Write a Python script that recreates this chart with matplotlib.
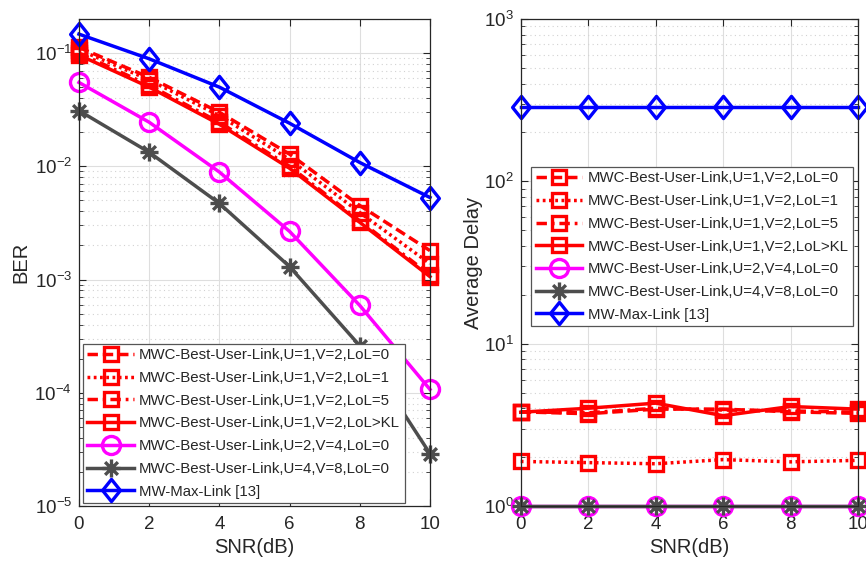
import numpy as np
import matplotlib
matplotlib.use("Agg")
import matplotlib.pyplot as plt
from matplotlib.path import Path

plt.rcParams['font.family'] = ['Liberation Sans', 'DejaVu Sans']
plt.rcParams['mathtext.fontset'] = 'custom'
plt.rcParams['mathtext.rm'] = 'Liberation Sans'
plt.rcParams['mathtext.default'] = 'regular'

snr = [0, 2, 4, 6, 8, 10]
labels = [
    "MWC-Best-User-Link,U=1,V=2,LoL=0",
    "MWC-Best-User-Link,U=1,V=2,LoL=1",
    "MWC-Best-User-Link,U=1,V=2,LoL=5",
    "MWC-Best-User-Link,U=1,V=2,LoL>KL",
    "MWC-Best-User-Link,U=2,V=4,LoL=0",
    "MWC-Best-User-Link,U=4,V=8,LoL=0",
    "MW-Max-Link [13]",
]

# BER versus SNR
ber_lol0 = [0.112, 0.061, 0.030, 0.0128, 0.0045, 0.0018]
ber_lol1 = [0.107, 0.058, 0.028, 0.0115, 0.0039, 0.00138]
ber_lol5 = [0.100, 0.052, 0.0245, 0.0100, 0.0033, 0.00110]
ber_lolkl = [0.096, 0.050, 0.0235, 0.0096, 0.0032, 0.00106]
ber_u2 = [0.055, 0.0245, 0.0089, 0.00266, 0.00059, 0.000107]
ber_u4 = [0.031, 0.0133, 0.0047, 0.0013, 0.00026, 0.000029]
ber_max = [0.147, 0.089, 0.050, 0.024, 0.0108, 0.0053]

# Average delay versus SNR
delay_lol0 = [3.8, 3.7, 3.95, 3.95, 3.8, 3.72]
delay_lol1 = [1.88, 1.85, 1.82, 1.93, 1.87, 1.91]
delay_lol5 = [3.8, 3.75, 4.0, 3.9, 3.85, 3.78]
delay_lolkl = [3.78, 4.0, 4.3, 3.6, 4.1, 3.95]
delay_u2 = [1.0, 1.0, 1.0, 1.0, 1.0, 1.0]
delay_u4 = [1.0, 1.0, 1.0, 1.0, 1.0, 1.0]
delay_max = [285, 285, 285, 285, 285, 285]

RED = '#ff0000'
MAG = '#ff00ff'
GRAY = '#4d4d4d'
BLUE = '#0000ff'
TXT = '#262626'

diamond = Path([(0, 1), (0.8, 0), (0, -1), (-0.8, 0), (0, 1)],
               [Path.MOVETO, Path.LINETO, Path.LINETO, Path.LINETO, Path.CLOSEPOLY])
s = np.sqrt(0.5)
asterisk = Path([(-1, 0), (1, 0), (0, -1), (0, 1), (-s, -s), (s, s), (-s, s), (s, -s)],
                [Path.MOVETO, Path.LINETO] * 4)

styles = [
    dict(color=RED, ls=(0, (3.0, 1.4)), marker='s', ms=10.5),
    dict(color=RED, ls=(0, (0.8, 1.0)), marker='s', ms=10.5),
    dict(color=RED, ls=(0, (3.0, 1.4, 0.8, 1.4)), marker='s', ms=10.5),
    dict(color=RED, ls='-', marker='s', ms=10.5),
    dict(color=MAG, ls='-', marker='o', ms=13),
    dict(color=GRAY, ls='-', marker=asterisk, ms=13),
    dict(color=BLUE, ls='-', marker=diamond, ms=16),
]

fig = plt.figure(figsize=(8.66, 5.68), dpi=100)
ax1 = fig.add_axes([0.0912, 0.1092, 0.4053, 0.8574])
ax2 = fig.add_axes([0.6013, 0.1092, 0.3895, 0.8574])


def draw(ax, series):
    for y, st, lab in zip(series, styles, labels):
        ax.plot(snr, y, color=st['color'], linestyle=st['ls'], marker=st['marker'],
                markersize=st['ms'], markerfacecolor='none', markeredgecolor=st['color'],
                markeredgewidth=2.4, linewidth=2.5, label=lab, clip_on=False)


def style_axes(ax):
    ax.set_yscale('log')
    ax.set_xlim(0, 10)
    ax.set_xticks(snr)
    ax.grid(True, which='major', color='#dedede', linewidth=0.8, linestyle='-')
    ax.grid(True, which='minor', axis='y', color='#d2d2d2', linewidth=0.8,
            linestyle=(0, (1, 3)))
    ax.set_axisbelow(True)
    ax.tick_params(which='both', direction='in', top=True, right=True,
                   colors=TXT, labelsize=13.5)
    ax.tick_params(which='major', length=5, width=0.8)
    ax.tick_params(axis='x', which='major', pad=7)
    ax.tick_params(axis='y', which='major', pad=5)
    ax.tick_params(which='minor', length=3, width=0.6)
    ax.tick_params(axis='x', which='minor', bottom=False, top=False)
    for sp in ax.spines.values():
        sp.set_color(TXT)
        sp.set_linewidth(0.9)
    ax.set_xlabel('SNR(dB)', fontsize=14.5, color=TXT, labelpad=4)


draw(ax1, [ber_lol0, ber_lol1, ber_lol5, ber_lolkl, ber_u2, ber_u4, ber_max])
style_axes(ax1)
ax1.set_ylim(1e-5, 0.2)
ax1.set_ylabel('BER', fontsize=14.5, color=TXT, labelpad=3)

draw(ax2, [delay_lol0, delay_lol1, delay_lol5, delay_lolkl, delay_u2, delay_u4, delay_max])
style_axes(ax2)
ax2.set_ylim(1, 1000)
ax2.set_ylabel('Average Delay', fontsize=14.5, color=TXT, labelpad=1)

leg_kw = dict(fontsize=10.8, numpoints=1, handlelength=3.1, handletextpad=0.35,
              borderpad=0.3, labelspacing=0.58, fancybox=False, framealpha=1,
              edgecolor='#555555', borderaxespad=0)
l1 = ax1.legend(loc='lower left', bbox_to_anchor=(0.0958, 0.1144),
                bbox_transform=fig.transFigure, **leg_kw)
l2 = ax2.legend(loc='upper right', bbox_to_anchor=(0.985, 0.706),
                bbox_transform=fig.transFigure, **leg_kw)
for leg in (l1, l2):
    leg.get_frame().set_linewidth(0.9)
    for t in leg.get_texts():
        t.set_color(TXT)

fig.savefig('out.png', dpi=100)
